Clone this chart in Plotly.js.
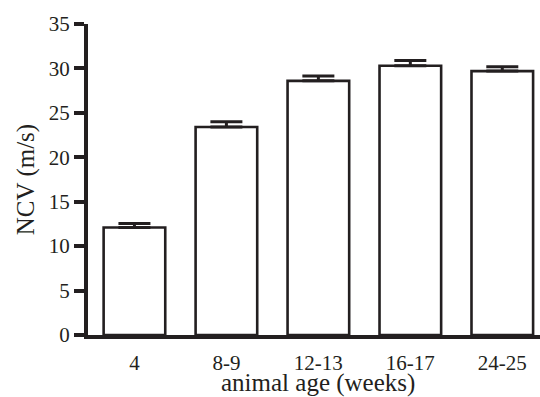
<!DOCTYPE html>
<html>
<head>
<meta charset="utf-8">
<script src="https://cdn.plot.ly/plotly-3.0.1.min.js"></script>
<style>html,body{margin:0;padding:0;background:#fff;}#chart{width:540px;height:397px;}</style>
</head>
<body>
<div id="chart"></div>
<script>
const categories = ["4", "8-9", "12-13", "16-17", "24-25"];
const ncvValues = [12.1, 23.4, 28.6, 30.3, 29.7];
const ncvErrors = [0.45, 0.6, 0.55, 0.6, 0.5];
const yTickValues = [0, 5, 10, 15, 20, 25, 30, 35];
const xTitle = "animal age (weeks)";
const yTitle = "NCV (m/s)";

const ink = "#231f20";
const serif = "'Liberation Serif', 'Times New Roman', Times, serif";
const trace = {
  type: "bar",
  x: categories,
  y: ncvValues,
  marker: { color: "#ffffff", line: { color: ink, width: 2.6 } },
  error_y: {
    type: "data",
    symmetric: false,
    array: ncvErrors,
    arrayminus: ncvErrors.map(() => 0),
    color: ink,
    thickness: 3,
    width: 16
  },
  hoverinfo: "none"
};

const layout = {
  width: 540,
  height: 397,
  margin: { l: 88, r: 0, t: 24, b: 62, pad: 0 },
  paper_bgcolor: "#ffffff",
  plot_bgcolor: "#ffffff",
  showlegend: false,
  bargap: 0.33,
  font: { family: serif, color: ink },
  xaxis: {
    type: "category",
    range: [-0.505, 4.41],
    showline: true,
    linecolor: ink,
    linewidth: 4,
    ticks: "outside",
    ticklen: 6,
    tickcolor: "rgba(255,255,255,0)",
    showgrid: false,
    zeroline: false,
    tickfont: { size: 21, color: ink, family: serif }
  },
  yaxis: {
    range: [0, 35],
    tickvals: yTickValues,
    showline: true,
    linecolor: ink,
    linewidth: 4,
    ticks: "outside",
    ticklen: 10,
    tickwidth: 4,
    tickcolor: ink,
    showgrid: false,
    zeroline: false,
    tickfont: { size: 21, color: ink, family: serif }
  },
  annotations: [
    {
      text: xTitle, xref: "paper", yref: "paper", x: 0.509, y: -0.155,
      xanchor: "center", yanchor: "middle", showarrow: false, borderpad: 0,
      font: { size: 25, color: ink, family: serif }
    },
    {
      text: yTitle, xref: "paper", yref: "paper", x: -0.137, y: 0.498,
      xanchor: "center", yanchor: "middle", showarrow: false, textangle: -90, borderpad: 0,
      font: { size: 25, color: ink, family: serif }
    }
  ]
};

Plotly.newPlot("chart", [trace], layout, { displayModeBar: false, staticPlot: true });
</script>
</body>
</html>
